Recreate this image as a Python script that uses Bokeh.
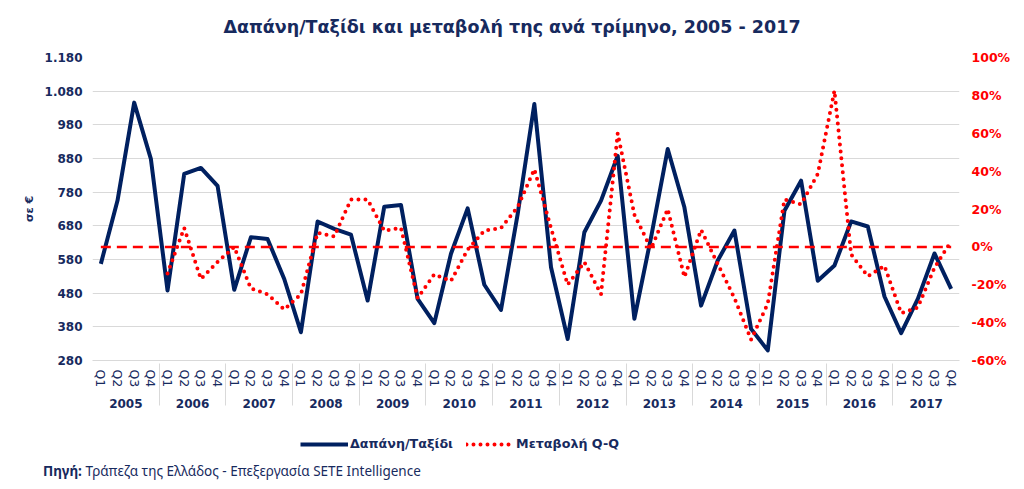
from bokeh.plotting import figure
from bokeh.layouts import column
from bokeh.models import (FactorRange, Range1d, LinearAxis, FixedTicker, Div,
                          Legend, LegendItem, ColumnDataSource)
from bokeh.embed import file_html
from bokeh.resources import INLINE

NAN = float("nan")

# ---------------- data ----------------
years = ["2005", "2006", "2007", "2008", "2009", "2010", "2011",
         "2012", "2013", "2014", "2015", "2016", "2017"]
quarters = ["Q1", "Q2", "Q3", "Q4"]

spend_per_trip = [
    567, 755, 1046, 879,   # 2005
    488, 834, 852, 799,    # 2006
    490, 646, 641, 522,    # 2007
    364, 693, 671, 654,    # 2008
    458, 737, 742, 463,    # 2009
    391, 597, 732, 505,    # 2010
    430, 715, 1042, 557,   # 2011
    344, 661, 755, 888,    # 2012
    404, 646, 908, 735,    # 2013
    443, 577, 666, 374,    # 2014
    310, 725, 814, 517,    # 2015
    562, 693, 678, 470,    # 2016
    361, 463, 598, 493,    # 2017
]

change_pct = [
    NAN, NAN, NAN, NAN,    # 2005
    -14, 10, -17, -8,      # 2006
    0, -22, -25, -33,      # 2007
    -25, 7.5, 5.5, 25,     # 2008
    25, 8.5, 10, -27,      # 2009
    -14.5, -18, -1.5, 8.5, # 2010
    10, 21, 41, 10,        # 2011
    -20, -8, -25, 60,      # 2012
    17, -1, 20, -16,       # 2013
    9, -9, -27, -49,       # 2014
    -30, 25, 22.5, 38.5,   # 2015
    82.5, -4, -15.5, -10,  # 2016
    -35, -32, -11, 3,      # 2017
]

zero_line = [0] * (len(years) * len(quarters))

left_ticks = [280, 380, 480, 580, 680, 780, 880, 980, 1080, 1180]
left_tick_labels = ["280", "380", "480", "580", "680", "780", "880", "980",
                    "1.080", "1.180"]
right_ticks = [-60, -40, -20, 0, 20, 40, 60, 80, 100]
right_tick_labels = ["-60%", "-40%", "-20%", "0%", "20%", "40%", "60%",
                     "80%", "100%"]

title_text = "Δαπάνη/Ταξίδι και μεταβολή της ανά τρίμηνο, 2005 - 2017"
y_title = "σε €"
series_names = ["Δαπάνη/Ταξίδι", "Μεταβολή Q-Q"]
source_bold = "Πηγή:"
source_text = "Τράπεζα της Ελλάδος - Επεξεργασία SETE Intelligence"

# ---------------- styles ----------------
NAVY = "#002060"
TEXT = "#172A5E"
RED = "#FF0000"
GRID = "#D9D9D9"
FONT = "DejaVu Sans"
FONT2 = "Noto Sans"
W = 1024
H_TOP, H_MAIN, H_LEG, H_SRC = 48, 372, 37, 32
BORDER_L, BORDER_R = 92, 65

# ---------------- title ----------------
title_div = Div(
    text=(f'<div style="width:{W}px;height:{H_TOP}px;line-height:55px;'
          f"text-align:center;font-family:'{FONT}';font-weight:bold;"
          f'font-size:17.5px;color:{TEXT};white-space:nowrap;">{title_text}</div>'),
    width=W, height=H_TOP, margin=0)

# ---------------- main chart ----------------
factors = [(y, q) for y in years for q in quarters]
src = ColumnDataSource(data=dict(x=factors, spend=spend_per_trip,
                                 chg=change_pct, zero=zero_line))

x_range = FactorRange(*factors, factor_padding=0, subgroup_padding=0,
                      group_padding=0, range_padding=0)

p = figure(x_range=x_range, y_range=Range1d(280, 1180),
           width=W, height=H_MAIN, output_backend="svg",
           toolbar_location=None,
           min_border_left=BORDER_L, min_border_right=BORDER_R,
           min_border_top=9, min_border_bottom=60)
p.outline_line_color = None
p.background_fill_color = "white"
p.border_fill_color = "white"
p.extra_y_ranges = {"pct": Range1d(-60, 100)}

p.xgrid.grid_line_color = None
p.ygrid.grid_line_color = GRID
p.ygrid.grid_line_width = 1
p.ygrid.ticker = FixedTicker(ticks=left_ticks)

ya = p.yaxis[0]
ya.ticker = FixedTicker(ticks=left_ticks)
ya.major_label_overrides = {t: l for t, l in zip(left_ticks, left_tick_labels)}
ya.axis_line_color = None
ya.major_tick_line_color = None
ya.minor_tick_line_color = None
ya.major_tick_out = 0
ya.major_tick_in = 0
ya.major_label_standoff = 10
ya.major_label_text_font = FONT
ya.major_label_text_font_style = "bold"
ya.major_label_text_font_size = "12px"
ya.major_label_text_color = TEXT
ya.axis_label = y_title
ya.axis_label_text_font = FONT
ya.axis_label_text_font_style = "bold"
ya.axis_label_text_font_size = "11px"
ya.axis_label_text_color = TEXT
ya.axis_label_standoff = 6

ra = LinearAxis(y_range_name="pct", ticker=FixedTicker(ticks=right_ticks))
ra.major_label_overrides = {t: l for t, l in zip(right_ticks, right_tick_labels)}
ra.axis_line_color = None
ra.major_tick_line_color = None
ra.minor_tick_line_color = None
ra.major_tick_out = 0
ra.major_tick_in = 0
ra.major_label_standoff = 12
ra.major_label_text_font = FONT
ra.major_label_text_font_style = "bold"
ra.major_label_text_font_size = "12.5px"
ra.major_label_text_color = RED
p.add_layout(ra, "right")

xa = p.xaxis[0]
xa.axis_line_color = GRID
xa.axis_line_width = 1
xa.major_tick_line_color = None
xa.minor_tick_line_color = None
xa.major_tick_out = 0
xa.major_tick_in = 0
xa.major_label_standoff = 9
xa.major_label_orientation = "vertical"
xa.major_label_text_font = FONT
xa.major_label_text_font_size = "12.5px"
xa.major_label_text_color = TEXT
xa.group_text_font = FONT
xa.group_text_font_style = "bold"
xa.group_text_font_size = "12px"
xa.group_text_color = TEXT
xa.separator_line_color = GRID
xa.separator_line_width = 1

p.line("x", "spend", source=src, line_color=NAVY, line_width=4,
       line_join="round")
p.line("x", "chg", source=src, y_range_name="pct", line_color=RED,
       line_width=4, line_dash="0 7", line_cap="round", line_join="round")
p.line("x", "zero", source=src, y_range_name="pct", line_color=RED,
       line_width=2.5, line_dash="10 6")

# ---------------- legend strip ----------------
leg = figure(width=W, height=H_LEG, x_range=Range1d(0, 1), y_range=Range1d(0, 1),
             output_backend="svg", toolbar_location=None,
             x_axis_type=None, y_axis_type=None,
             min_border_left=BORDER_L, min_border_right=BORDER_R,
             min_border_top=0, min_border_bottom=0)
leg.outline_line_color = None
leg.grid.visible = False
leg.background_fill_color = "white"
leg.border_fill_color = "white"
# placeholder renderers (no visible data) that only provide legend swatches
lg_spend = leg.line(x=[NAN], y=[NAN], line_color=NAVY, line_width=4)
lg_chg = leg.line(x=[NAN], y=[NAN], line_color=RED, line_width=4,
                  line_dash="0 7", line_cap="round")
legend = Legend(items=[LegendItem(label=series_names[0], renderers=[lg_spend]),
                       LegendItem(label=series_names[1], renderers=[lg_chg])],
                orientation="horizontal", location=(300 - BORDER_L, 6),
                glyph_width=48, glyph_height=14, label_standoff=2,
                spacing=13, padding=0, margin=0,
                border_line_color=None, background_fill_alpha=0,
                label_text_font=FONT, label_text_font_style="bold",
                label_text_font_size="12.7px", label_text_color=TEXT)
leg.add_layout(legend, "center")

# ---------------- source ----------------
source_div = Div(
    text=(f'<div style="width:{W - 43}px;height:{H_SRC}px;line-height:28px;'
          f"padding-left:43px;font-family:'{FONT2}';font-size:13.5px;"
          f'color:{TEXT};white-space:nowrap;">'
          f'<span style="font-weight:bold;">{source_bold}</span> {source_text}</div>'),
    width=W, height=H_SRC, margin=0)

layout = column(title_div, p, leg, source_div, spacing=0)
open("out.html", "w").write(file_html(layout, INLINE))
